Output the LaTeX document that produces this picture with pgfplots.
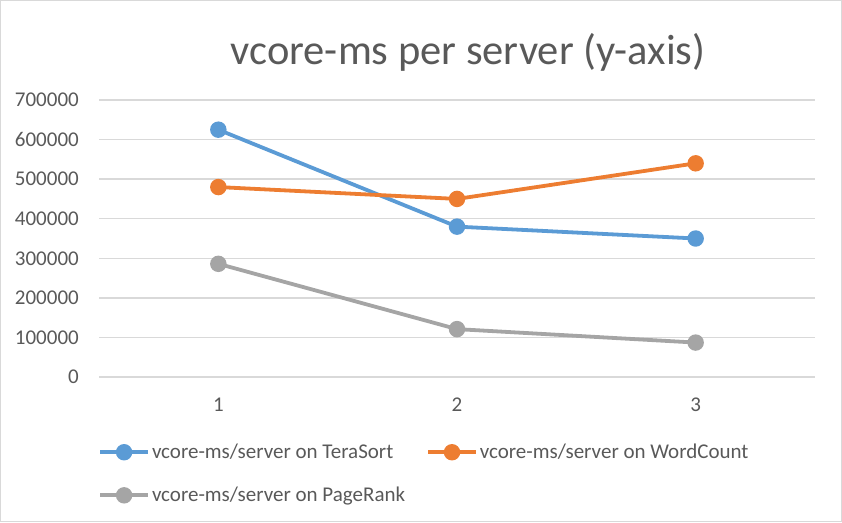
\documentclass[border=0pt]{standalone}
\usepackage{pgfplots}
\pgfplotsset{compat=1.18}
\usepackage{fontspec}
\setmainfont{Carlito}
\definecolor{cblue}{HTML}{5B9BD5}
\definecolor{corange}{HTML}{ED7D31}
\definecolor{cgray}{HTML}{A5A5A5}
\definecolor{gridc}{HTML}{D9D9D9}
\definecolor{txt}{HTML}{595959}
\begin{document}
\begin{tikzpicture}
\useasboundingbox (0,0) rectangle (842pt,522pt);
\draw[gridc, line width=1pt] (0.5pt,0.5pt) rectangle (841.5pt,521.5pt);
\node[txt, font=\fontsize{42.5}{50}\selectfont] at (468pt,470pt) {vcore-ms per server (y-axis)};
\begin{axis}[
  at={(99pt,145pt)}, anchor=south west,
  scale only axis, width=716pt, height=277pt,
  xmin=0.5, xmax=3.5, ymin=0, ymax=700000,
  xtick={1,2,3}, ytick={0,100000,...,700000},
  axis line style={draw=none}, major tick length=0pt,
  ymajorgrids, grid style={gridc, line width=1.5pt},
  scaled y ticks=false,
  yticklabel style={/pgf/number format/fixed, /pgf/number format/1000 sep={}, xshift=-20pt},
  xticklabel style={yshift=-21pt},
  tick label style={txt, font=\fontsize{21}{25}\selectfont, inner sep=0pt},
  /pgf/number format/assume math mode=true,
  clip=false,
  legend columns=2,
  legend cell align=left,
  legend style={draw=none, fill=none, at={(axis description cs:0,0)}, anchor=north west,
    xshift=-4pt, yshift=-63pt, font=\fontsize{21}{25}\selectfont, text=txt,
    /tikz/every even column/.append style={column sep=19pt}, row sep=23pt,
    nodes={inner sep=2pt}},
  legend image code/.code={\draw[mark repeat=2,mark phase=2] plot coordinates {(0pt,0pt) (24pt,0pt) (48pt,0pt)};},
  every axis plot/.append style={line width=3.8pt, mark=*, mark size=6.3pt},
]
\addplot[cblue, mark options={fill=cblue, draw=cblue}] coordinates {(1,625000) (2,380000) (3,350000)};
\addlegendentry{vcore-ms/server on TeraSort}
\addplot[corange, mark options={fill=corange, draw=corange}] coordinates {(1,480000) (2,450000) (3,540000)};
\addlegendentry{vcore-ms/server on WordCount}
\addplot[cgray, mark options={fill=cgray, draw=cgray}] coordinates {(1,286000) (2,121000) (3,87000)};
\addlegendentry{vcore-ms/server on PageRank}
\end{axis}
\end{tikzpicture}
\end{document}
